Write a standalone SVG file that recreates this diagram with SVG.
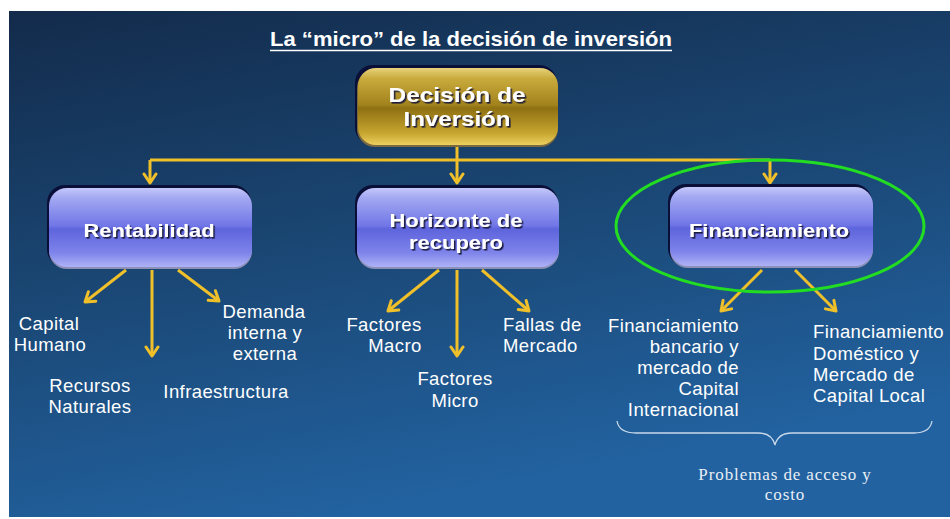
<svg xmlns="http://www.w3.org/2000/svg" width="950" height="519" viewBox="0 0 950 519">
<defs>
<linearGradient id="bg" x1="0" y1="0" x2="0.35" y2="1">
<stop offset="0" stop-color="#132b4b"/>
<stop offset="0.5" stop-color="#1a4673"/>
<stop offset="1" stop-color="#2262a0"/>
</linearGradient>
<linearGradient id="blue" x1="0" y1="0" x2="0" y2="1">
<stop offset="0" stop-color="#c4c8fa"/>
<stop offset="0.12" stop-color="#a4a9f2"/>
<stop offset="0.48" stop-color="#7076e6"/>
<stop offset="0.52" stop-color="#5e64dc"/>
<stop offset="0.82" stop-color="#7e84ea"/>
<stop offset="1" stop-color="#aeb2f6"/>
</linearGradient>
<linearGradient id="gold" x1="0" y1="0" x2="0" y2="1">
<stop offset="0" stop-color="#e8d27a"/>
<stop offset="0.14" stop-color="#c8aa3c"/>
<stop offset="0.48" stop-color="#a2821c"/>
<stop offset="0.52" stop-color="#8e7012"/>
<stop offset="0.85" stop-color="#c8a630"/>
<stop offset="1" stop-color="#ecd060"/>
</linearGradient>
<filter id="ts" x="-10%" y="-30%" width="120%" height="160%">
<feDropShadow dx="1.6" dy="1.6" stdDeviation="0.4" flood-color="#15153a" flood-opacity="0.95"/>
</filter>
<marker id="ah" markerUnits="userSpaceOnUse" viewBox="-12 -8 14 16" refX="0" refY="0" markerWidth="14" markerHeight="16" orient="auto">
<path d="M-9,-6 L0,0 L-9,6" fill="none" stroke="#f0c02a" stroke-width="3" stroke-linecap="round" stroke-linejoin="round"/>
</marker>
</defs>
<style>
.box{fill:url(#blue);}
.edge{fill:#0a0f38;}
.low{fill:#8c90b8;}
.nt{font-family:"Liberation Sans",Arial,sans-serif;font-weight:bold;fill:#ffffff;text-anchor:middle;filter:url(#ts);}
.ct{font-family:"Liberation Sans",Arial,sans-serif;font-size:18.5px;letter-spacing:0.4px;fill:#ffffff;}
.c{text-anchor:middle;}
.r{text-anchor:end;}
.l{text-anchor:start;}
.conn path{fill:none;stroke:#f0c02a;stroke-width:3;}
</style>
<rect x="9" y="11" width="941" height="506" fill="url(#bg)"/>

<g id="title">
<text x="471" y="46" font-family="Liberation Sans, Arial, sans-serif" font-weight="bold" font-size="21" fill="#ffffff" text-anchor="middle" textLength="402" lengthAdjust="spacingAndGlyphs">La “micro” de la decisión de inversión</text>
<line x1="270" y1="50.5" x2="672" y2="50.5" stroke="#ffffff" stroke-width="1.6"/>
</g>

<g class="conn" id="connectors">
<path d="M457,145 V160 M150,160 H770"/>
<path d="M150,160 V183" marker-end="url(#ah)"/>
<path d="M457,160 V183" marker-end="url(#ah)"/>
<path d="M770,160 V183" marker-end="url(#ah)"/>
<path d="M126,270 L85,302" marker-end="url(#ah)"/>
<path d="M152,270 V356" marker-end="url(#ah)"/>
<path d="M178,270 L219,301" marker-end="url(#ah)"/>
<path d="M439,270 L388,311" marker-end="url(#ah)"/>
<path d="M457,270 V356" marker-end="url(#ah)"/>
<path d="M482,270 L529,311" marker-end="url(#ah)"/>
<path d="M762,270 L721,311" marker-end="url(#ah)"/>
<path d="M795,270 L836,311" marker-end="url(#ah)"/>
</g>

<g id="decision">
<rect x="355" y="65" width="202" height="80" rx="18" class="edge"/>
<rect x="357" y="70" width="201" height="77" rx="18" fill="#7a6a40"/>
<rect x="358" y="68" width="200" height="77" rx="18" fill="url(#gold)"/>
<text class="nt" x="457" y="102" font-size="20.5" textLength="137" lengthAdjust="spacingAndGlyphs">Decisión de</text>
<text class="nt" x="457" y="126" font-size="20.5" textLength="107" lengthAdjust="spacingAndGlyphs">Inversión</text>
</g>

<g id="rentabilidad">
<rect x="47" y="185" width="204" height="82" rx="18" class="edge"/>
<rect x="49" y="190" width="203" height="79" rx="18" class="low"/>
<rect x="49" y="188" width="203" height="79" rx="18" class="box"/>
<text class="nt" x="149" y="237" font-size="18.5" textLength="131" lengthAdjust="spacingAndGlyphs">Rentabilidad</text>
</g>

<g id="horizonte">
<rect x="355" y="185" width="203" height="82" rx="18" class="edge"/>
<rect x="357" y="190" width="202" height="79" rx="18" class="low"/>
<rect x="357" y="188" width="202" height="79" rx="18" class="box"/>
<text class="nt" x="456" y="227" font-size="18" textLength="133" lengthAdjust="spacingAndGlyphs">Horizonte de</text>
<text class="nt" x="456" y="249" font-size="18" textLength="94" lengthAdjust="spacingAndGlyphs">recupero</text>
</g>

<g id="financiamiento">
<rect x="668" y="184" width="204" height="82" rx="18" class="edge"/>
<rect x="670" y="189" width="203" height="79" rx="18" class="low"/>
<rect x="670" y="187" width="203" height="79" rx="18" class="box"/>
<text class="nt" x="769" y="237" font-size="18.5" textLength="160" lengthAdjust="spacingAndGlyphs">Financiamiento</text>
</g>

<g id="highlight">
<ellipse cx="770" cy="226" rx="154" ry="66" fill="none" stroke="#22dd22" stroke-width="3"/>
</g>

<g id="capital-humano">
<text class="ct c" x="49" y="330">Capital</text>
<text class="ct c" x="50" y="351">Humano</text>
</g>
<g id="recursos">
<text class="ct c" x="90" y="392">Recursos</text>
<text class="ct c" x="90" y="413">Naturales</text>
</g>
<g id="infraestructura">
<text class="ct c" x="226" y="398">Infraestructura</text>
</g>
<g id="demanda">
<text class="ct c" x="264" y="318">Demanda</text>
<text class="ct c" x="265" y="339">interna y</text>
<text class="ct c" x="265" y="360">externa</text>
</g>
<g id="factores-macro">
<text class="ct c" x="384" y="331">Factores</text>
<text class="ct c" x="395" y="352">Macro</text>
</g>
<g id="factores-micro">
<text class="ct c" x="455" y="385">Factores</text>
<text class="ct c" x="455" y="407">Micro</text>
</g>
<g id="fallas">
<text class="ct l" x="503" y="331">Fallas de</text>
<text class="ct l" x="503" y="352">Mercado</text>
</g>
<g id="fin-internacional">
<text class="ct r" x="739" y="332">Financiamiento</text>
<text class="ct r" x="739" y="353">bancario y</text>
<text class="ct r" x="739" y="374">mercado de</text>
<text class="ct r" x="739" y="395">Capital</text>
<text class="ct r" x="739" y="416">Internacional</text>
</g>
<g id="fin-local">
<text class="ct l" x="813" y="338">Financiamiento</text>
<text class="ct l" x="813" y="360">Doméstico y</text>
<text class="ct l" x="813" y="381">Mercado de</text>
<text class="ct l" x="813" y="402">Capital Local</text>
</g>

<g id="brace">
<path d="M617,421 Q619,433 636,433 L758,433 Q772,433 775,445 Q778,433 792,433 L914,433 Q930,433 932,421" fill="none" stroke="#c8d8ea" stroke-width="1.3"/>
</g>
<g id="problemas">
<text x="785" y="480" font-family="Liberation Serif, 'Times New Roman', serif" font-size="17" letter-spacing="0.9" fill="#e8eef6" text-anchor="middle">Problemas de acceso y</text>
<text x="785" y="500" font-family="Liberation Serif, 'Times New Roman', serif" font-size="17" letter-spacing="0.9" fill="#e8eef6" text-anchor="middle">costo</text>
</g>
</svg>
